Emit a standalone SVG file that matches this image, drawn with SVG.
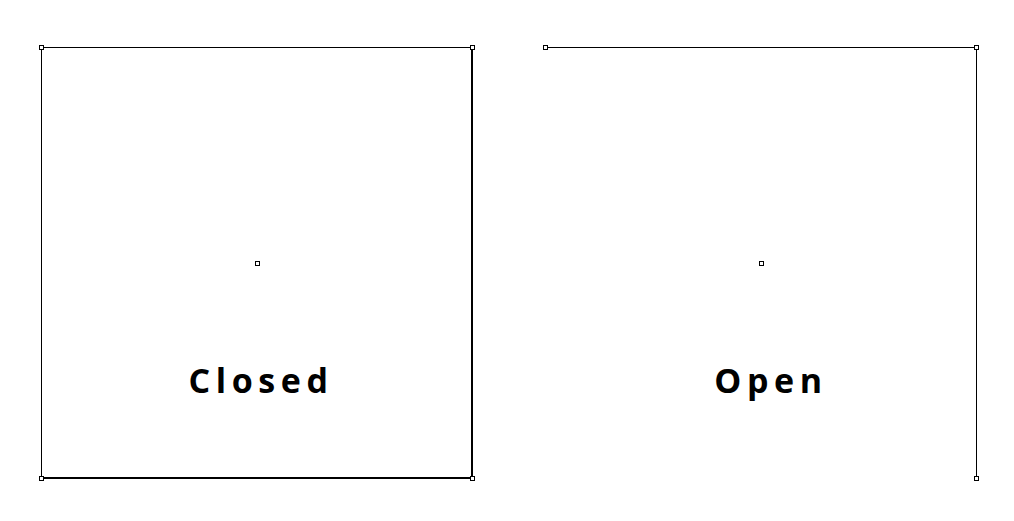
<svg xmlns="http://www.w3.org/2000/svg" width="1014" height="521" viewBox="0 0 1014 521">
<style>
.ln{fill:none;stroke:#000;stroke-width:1}
.thick{fill:none;stroke:#000;stroke-width:2}
.pt{fill:#fff;stroke:#000;stroke-width:1}
.lbl{font-family:"Open Sans","Noto Sans",sans-serif;font-weight:bold;font-size:34px;letter-spacing:5.6px;text-anchor:middle;fill:#000}
</style>
<rect width="1014" height="521" fill="#fff"/>
<g id="connectors">
<path class="ln" d="M41.5,478 L41.5,47.5 L472,47.5"/>
<path class="thick" d="M472,47 L472,478 L41,478"/>
<path class="ln" d="M545,47.5 L976.5,47.5 L976.5,478"/>
</g>
<g id="closed">
<rect class="pt" x="39.5" y="45.5" width="4" height="4"/>
<rect class="pt" x="470.5" y="45.5" width="4" height="4"/>
<rect class="pt" x="470.5" y="476.5" width="4" height="4"/>
<rect class="pt" x="39.5" y="476.5" width="4" height="4"/>
<rect class="pt" x="255.5" y="261.5" width="4" height="4"/>
<text class="lbl" x="261" y="393">Closed</text>
</g>
<g id="open">
<rect class="pt" x="543.5" y="45.5" width="4" height="4"/>
<rect class="pt" x="974.5" y="45.5" width="4" height="4"/>
<rect class="pt" x="974.5" y="476.5" width="4" height="4"/>
<rect class="pt" x="759.5" y="261.5" width="4" height="4"/>
<text class="lbl" x="771" y="393">Open</text>
</g>
</svg>
